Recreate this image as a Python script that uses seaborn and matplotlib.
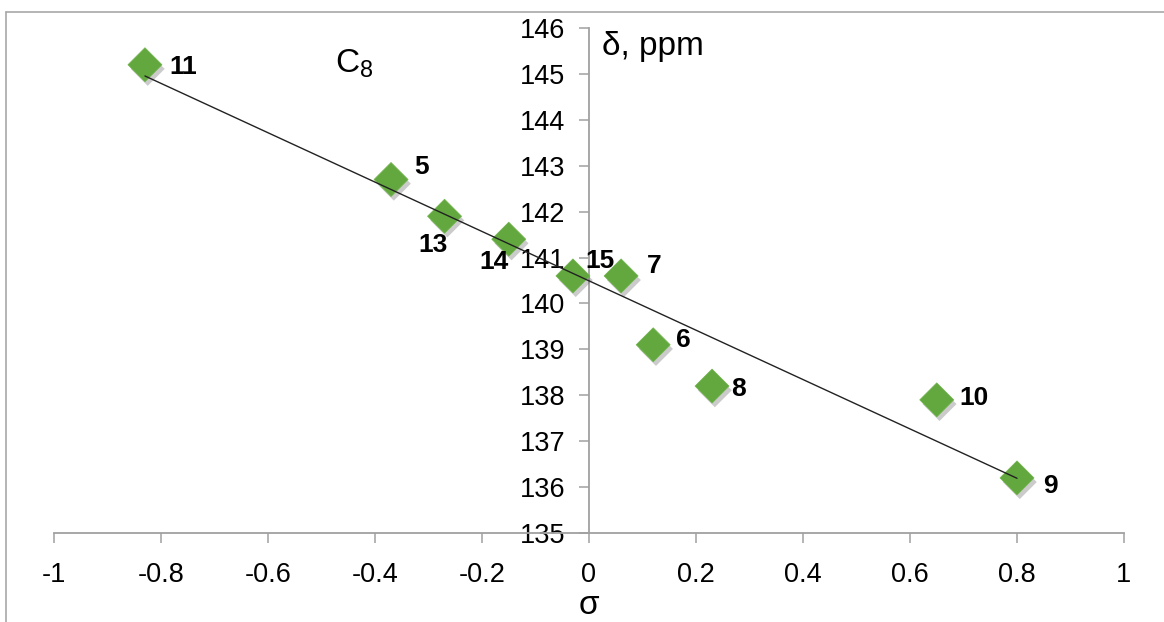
import numpy as np
import pandas as pd
import matplotlib
matplotlib.use("Agg")
import matplotlib.pyplot as plt
import matplotlib.patheffects as pe
from matplotlib.lines import Line2D
import seaborn as sns

# substituent constants (sigma) and C8 chemical shifts
labels = ["11", "5", "13", "14", "15", "7", "6", "8", "10", "9"]
sigma = [-0.83, -0.37, -0.27, -0.15, -0.03, 0.06, 0.12, 0.23, 0.65, 0.80]
delta = [145.2, 142.7, 141.9, 141.4, 140.6, 140.6, 139.1, 138.2, 137.9, 136.2]

x_ticks = [-1, -0.8, -0.6, -0.4, -0.2, 0, 0.2, 0.4, 0.6, 0.8, 1]
x_ticklabels = ["-1", "-0.8", "-0.6", "-0.4", "-0.2", "0", "0.2", "0.4", "0.6", "0.8", "1"]
y_ticks = [135, 136, 137, 138, 139, 140, 141, 142, 143, 144, 145, 146]

# label placement relative to the marker: (dx px, dy px, horizontal alignment)
label_offsets = {
    "11": (24, -2, "left"), "5": (23, 13, "left"), "13": (3, -29, "right"),
    "14": (0, -23, "right"), "15": (12, 15, "left"), "7": (26, 10, "left"),
    "6": (23, 5, "left"), "8": (19, -3, "left"), "10": (23, 2, "left"),
    "9": (26, -8, "left"),
}

df = pd.DataFrame({"sigma": sigma, "delta": delta, "label": labels})

sns.set_style("white")
plt.rcParams["font.family"] = ["Liberation Sans", "DejaVu Sans"]
plt.rcParams["mathtext.fontset"] = "custom"
plt.rcParams["mathtext.rm"] = "Liberation Sans"
plt.rcParams["mathtext.it"] = "Liberation Sans"
plt.rcParams["text.color"] = "black"

fig = plt.figure(figsize=(11.64, 6.22), dpi=100)
ax = fig.add_axes([54 / 1164, 89 / 622, 1070 / 1164, 505 / 622])

# outer chart border (top and left edges visible)
fig.add_artist(Line2D([6 / 1164, 6 / 1164], [0, 1 - 12 / 622], transform=fig.transFigure,
                      color="#a8a8a8", lw=1.2))
fig.add_artist(Line2D([6 / 1164, 1], [1 - 12 / 622, 1 - 12 / 622], transform=fig.transFigure,
                      color="#a8a8a8", lw=1.2))

sns.scatterplot(data=df, x="sigma", y="delta", marker="D", s=300, color="#62a83f",
                edgecolor="#6fb34a", linewidth=0.5, ax=ax, zorder=3,
                path_effects=[pe.SimplePatchShadow(offset=(2, -3), shadow_rgbFace="#555555", alpha=0.3),
                              pe.Normal()])

# linear trend line over the data range
k, b = np.polyfit(df["sigma"], df["delta"], 1)
xs = np.array([df["sigma"].min(), df["sigma"].max()])
sns.lineplot(x=xs, y=k * xs + b, color="#222222", lw=1.0, ax=ax, zorder=4)

for lab, sx, dy in zip(labels, sigma, delta):
    ox, oy, ha = label_offsets[lab]
    ax.annotate(lab, (sx, dy), xytext=(ox, oy), textcoords="offset pixels",
                ha=ha, va="center", fontsize=19, fontweight="bold", color="black", zorder=5)

ax.set_xlim(-1, 1)
ax.set_ylim(135, 146)
ax.set_xticks(x_ticks)
ax.set_xticklabels(x_ticklabels)
ax.set_yticks(y_ticks)
ax.set_xlabel("")
ax.set_ylabel("")

for side in ["top", "right"]:
    ax.spines[side].set_visible(False)
ax.spines["left"].set_position(("data", 0))
for side in ["left", "bottom"]:
    ax.spines[side].set_color("#a0a0a0")
    ax.spines[side].set_linewidth(1.3)

ax.tick_params(axis="both", bottom=True, left=True, direction="out", length=7, width=1.1,
               color="#a0a0a0", labelsize=19.5, labelcolor="black")
ax.tick_params(axis="x", pad=14)
ax.tick_params(axis="y", pad=10)
ax.grid(False)

ax.text(0.5, -0.143, "σ", transform=ax.transAxes, ha="center", va="center", fontsize=24)
ax.text(0.512, 0.9465, "δ, ppm", transform=ax.transAxes, ha="left", va="baseline", fontsize=24)
ax.text(0.2626, 0.911, "C$_8$", transform=ax.transAxes, ha="left", va="baseline", fontsize=24)

fig.savefig("out.png", dpi=100, facecolor="white")
